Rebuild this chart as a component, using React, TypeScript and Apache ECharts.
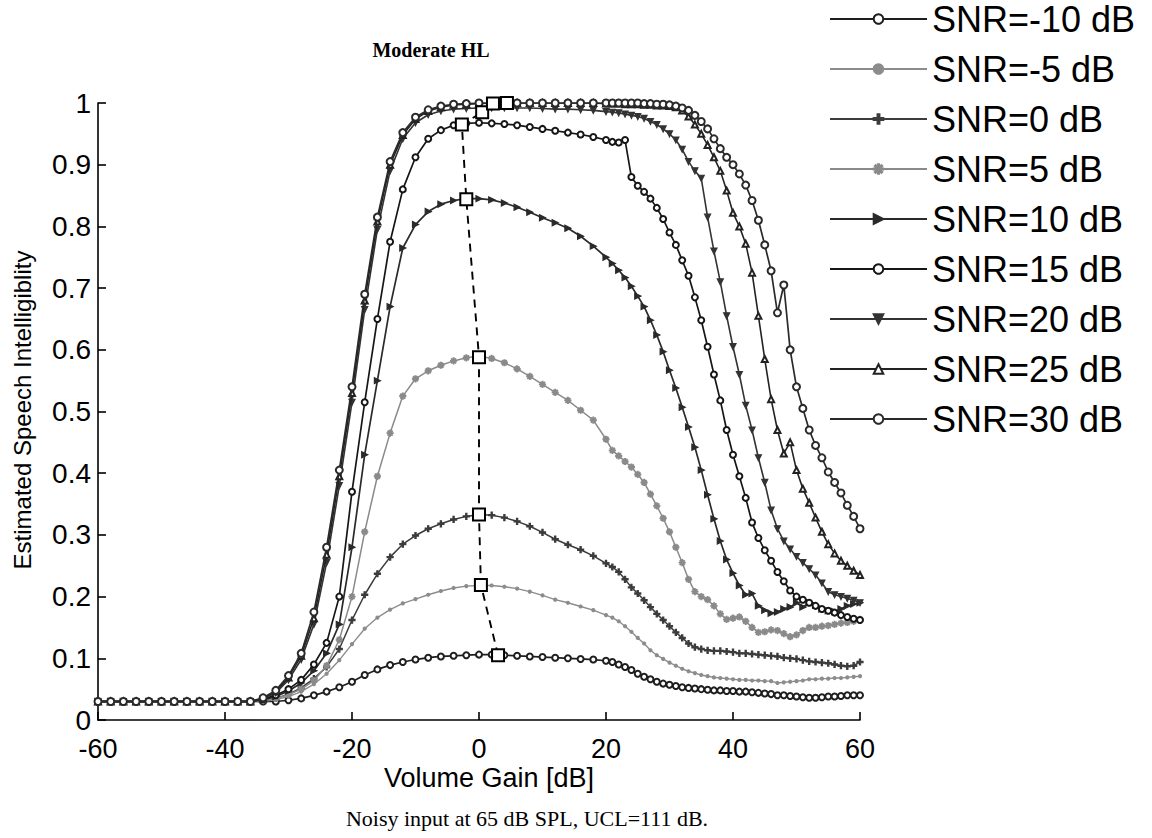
import React, { useEffect, useRef } from "react";
import * as echarts from "echarts";

// Volume gain grid [dB]
const GAIN = [
  -60, -58, -56, -54, -52, -50, -48, -46, -44, -42, -40, -38, -36, -34, -32, -30, -28, -26, -24, -22,
  -20, -18, -16, -14, -12, -10, -8, -6, -4, -2, 0, 2, 4, 6, 8, 10, 12, 14, 16, 18, 20,
  21, 22, 23, 24, 25, 26, 27, 28, 29, 30, 31, 32, 33, 34, 35, 36, 37, 38, 39, 40,
  41, 42, 43, 44, 45, 46, 47, 48, 49, 50, 51, 52, 53, 54, 55, 56, 57, 58, 59, 60,
];

const SNR_LABELS = [
  "SNR=-10 dB", "SNR=-5 dB", "SNR=0 dB", "SNR=5 dB", "SNR=10 dB",
  "SNR=15 dB", "SNR=20 dB", "SNR=25 dB", "SNR=30 dB",
];

const SI_SNR_M10 = [
  0.03, 0.03, 0.03, 0.03, 0.03, 0.03, 0.03, 0.03, 0.03, 0.03, 0.03, 0.03, 0.03,
  0.03, 0.03, 0.032, 0.035, 0.04, 0.046, 0.053, 0.062, 0.073, 0.082, 0.089, 0.094, 0.098, 0.101,
  0.103, 0.104, 0.105, 0.106, 0.106, 0.105, 0.104, 0.103, 0.102, 0.101, 0.1, 0.099, 0.098, 0.096,
  0.094, 0.09, 0.086, 0.081, 0.075, 0.07, 0.066, 0.062, 0.059, 0.057,
  0.055, 0.053, 0.052, 0.051, 0.05, 0.049, 0.048, 0.048, 0.047, 0.047,
  0.046, 0.046, 0.045, 0.044, 0.043, 0.042, 0.04, 0.04, 0.039, 0.038,
  0.037, 0.036, 0.036, 0.037, 0.038, 0.038, 0.039, 0.04, 0.04, 0.04,
];
const SI_SNR_M5 = [
  0.03, 0.03, 0.03, 0.03, 0.03, 0.03, 0.03, 0.03, 0.03, 0.03, 0.03, 0.03, 0.03,
  0.03, 0.033, 0.038, 0.046, 0.058, 0.075, 0.097, 0.123, 0.148, 0.166, 0.179, 0.189, 0.196, 0.203,
  0.209, 0.214, 0.217, 0.218, 0.218, 0.216, 0.213, 0.208, 0.202, 0.195, 0.19, 0.184, 0.178, 0.17,
  0.166, 0.16, 0.152, 0.143, 0.133, 0.124, 0.113, 0.105, 0.099, 0.093,
  0.088, 0.083, 0.079, 0.076, 0.073, 0.071, 0.069, 0.068, 0.067, 0.066,
  0.065, 0.065, 0.064, 0.064, 0.063, 0.063, 0.06, 0.061, 0.062, 0.063,
  0.064, 0.066, 0.066, 0.067, 0.067, 0.068, 0.068, 0.069, 0.07, 0.071,
];
const SI_SNR_0 = [
  0.03, 0.03, 0.03, 0.03, 0.03, 0.03, 0.03, 0.03, 0.03, 0.03, 0.03, 0.03, 0.03,
  0.031, 0.035, 0.042, 0.052, 0.067, 0.086, 0.115, 0.162, 0.203, 0.237, 0.264, 0.285, 0.299, 0.31,
  0.318, 0.325, 0.33, 0.333, 0.332, 0.328, 0.322, 0.314, 0.304, 0.293, 0.284, 0.276, 0.266, 0.254,
  0.248, 0.24, 0.228, 0.215, 0.205, 0.194, 0.183, 0.172, 0.162, 0.152,
  0.142, 0.133, 0.124, 0.118, 0.115, 0.113, 0.112, 0.112, 0.111, 0.11,
  0.108, 0.108, 0.107, 0.106, 0.105, 0.104, 0.103, 0.101, 0.1, 0.099,
  0.097, 0.095, 0.094, 0.093, 0.092, 0.09, 0.088, 0.087, 0.088, 0.094,
];
const SI_SNR_5 = [
  0.03, 0.03, 0.03, 0.03, 0.03, 0.03, 0.03, 0.03, 0.03, 0.03, 0.03, 0.03, 0.03,
  0.032, 0.035, 0.041, 0.05, 0.064, 0.088, 0.13, 0.2, 0.305, 0.395, 0.465, 0.525, 0.553, 0.566,
  0.575, 0.582, 0.587, 0.59, 0.586, 0.579, 0.569, 0.557, 0.544, 0.531, 0.518, 0.502, 0.486, 0.455,
  0.437, 0.428, 0.419, 0.41, 0.398, 0.385, 0.366, 0.347, 0.327, 0.305,
  0.28, 0.255, 0.228, 0.208, 0.2, 0.195, 0.185, 0.172, 0.163, 0.165,
  0.167, 0.16, 0.15, 0.142, 0.143, 0.146, 0.145, 0.14, 0.135, 0.138,
  0.145, 0.15, 0.15, 0.152, 0.153, 0.155, 0.157, 0.158, 0.16, 0.163,
];
const SI_SNR_10 = [
  0.03, 0.03, 0.03, 0.03, 0.03, 0.03, 0.03, 0.03, 0.03, 0.03, 0.03, 0.03, 0.03,
  0.033, 0.038, 0.047, 0.06, 0.08, 0.108, 0.155, 0.28, 0.43, 0.55, 0.67, 0.765, 0.803, 0.824,
  0.836, 0.842, 0.845, 0.845, 0.843, 0.838, 0.831, 0.823, 0.814, 0.806, 0.797, 0.784, 0.768, 0.75,
  0.74, 0.729, 0.717, 0.703, 0.687, 0.67, 0.648, 0.624, 0.597, 0.567,
  0.538, 0.507, 0.475, 0.442, 0.405, 0.365, 0.326, 0.29, 0.26, 0.238,
  0.218, 0.203, 0.205, 0.185, 0.178, 0.173, 0.175, 0.18, 0.183, 0.19,
  0.183, 0.19, 0.186, 0.18, 0.177, 0.176, 0.18, 0.185, 0.188, 0.19,
];
const SI_SNR_15 = [
  0.03, 0.03, 0.03, 0.03, 0.03, 0.03, 0.03, 0.03, 0.03, 0.03, 0.03, 0.03, 0.03,
  0.034, 0.04, 0.05, 0.065, 0.09, 0.125, 0.2, 0.37, 0.515, 0.65, 0.775, 0.86, 0.912, 0.942,
  0.956, 0.964, 0.967, 0.968, 0.967, 0.966, 0.964, 0.961, 0.958, 0.955, 0.952, 0.949, 0.945, 0.94,
  0.937, 0.936, 0.94, 0.88, 0.866, 0.856, 0.845, 0.83, 0.812, 0.79,
  0.77, 0.745, 0.72, 0.685, 0.648, 0.605, 0.56, 0.518, 0.47, 0.43,
  0.395, 0.36, 0.32, 0.295, 0.275, 0.258, 0.24, 0.225, 0.21, 0.2,
  0.195, 0.19, 0.185, 0.18, 0.177, 0.174, 0.17, 0.167, 0.164, 0.162,
];
const SI_SNR_20 = [
  0.03, 0.03, 0.03, 0.03, 0.03, 0.03, 0.03, 0.03, 0.03, 0.03, 0.03, 0.03, 0.03,
  0.034, 0.044, 0.065, 0.098, 0.155, 0.255, 0.38, 0.515, 0.665, 0.795, 0.89, 0.942, 0.968, 0.981,
  0.987, 0.99, 0.991, 0.992, 0.992, 0.992, 0.992, 0.992, 0.991, 0.99, 0.99, 0.989, 0.988, 0.986,
  0.985, 0.984, 0.982, 0.98, 0.978, 0.975, 0.97, 0.965, 0.958, 0.95,
  0.94, 0.925, 0.905, 0.89, 0.878, 0.815, 0.76, 0.71, 0.655, 0.605,
  0.56, 0.51, 0.47, 0.425, 0.385, 0.34, 0.31, 0.29, 0.277, 0.265,
  0.255, 0.245, 0.235, 0.222, 0.208, 0.203, 0.2, 0.197, 0.194, 0.19,
];
const SI_SNR_25 = [
  0.03, 0.03, 0.03, 0.03, 0.03, 0.03, 0.03, 0.03, 0.03, 0.03, 0.03, 0.03, 0.03,
  0.035, 0.046, 0.069, 0.104, 0.165, 0.268, 0.395, 0.53, 0.68, 0.808, 0.9, 0.948, 0.974, 0.987,
  0.993, 0.997, 0.998, 0.999, 1.0, 1.0, 1.0, 1.0, 1.0, 1.0, 1.0, 1.0, 1.0, 0.999,
  0.999, 0.999, 0.998, 0.998, 0.998, 0.997, 0.997, 0.996, 0.996, 0.995,
  0.993, 0.988, 0.978, 0.965, 0.95, 0.932, 0.912, 0.89, 0.858, 0.822,
  0.8, 0.772, 0.725, 0.655, 0.585, 0.52, 0.47, 0.432, 0.45, 0.405,
  0.375, 0.352, 0.328, 0.305, 0.285, 0.27, 0.258, 0.25, 0.242, 0.235,
];
const SI_SNR_30 = [
  0.03, 0.03, 0.03, 0.03, 0.03, 0.03, 0.03, 0.03, 0.03, 0.03, 0.03, 0.03, 0.03,
  0.036, 0.048, 0.072, 0.108, 0.175, 0.28, 0.405, 0.54, 0.69, 0.815, 0.905, 0.952, 0.977, 0.989,
  0.995, 0.998, 0.999, 1.0, 1.0, 1.0, 1.0, 1.0, 1.0, 1.0, 1.0, 1.0, 1.0, 1.0,
  1.0, 1.0, 1.0, 1.0, 1.0, 0.999, 0.999, 0.998, 0.998, 0.997,
  0.995, 0.992, 0.988, 0.98, 0.97, 0.958, 0.942, 0.926, 0.912, 0.9,
  0.885, 0.867, 0.842, 0.81, 0.77, 0.728, 0.66, 0.705, 0.6, 0.54,
  0.505, 0.47, 0.445, 0.425, 0.402, 0.385, 0.368, 0.348, 0.33, 0.31,
];

// Optimal gain points (dashed line with squares), from SNR=-10 up to SNR=30
const OPT_GAIN = [3, 0.3, 0, 0, -2, -2.7, 0.5, 2.2, 4.4];
const OPT_SI = [0.105, 0.219, 0.333, 0.588, 0.844, 0.965, 0.985, 0.999, 1.0];

const SERIES_VALUES = [
  SI_SNR_M10, SI_SNR_M5, SI_SNR_0, SI_SNR_5, SI_SNR_10,
  SI_SNR_15, SI_SNR_20, SI_SNR_25, SI_SNR_30,
];

const PLUS = "path://M4,0H6V4H10V6H6V10H4V6H0V4H4Z";
const ASTERISK =
  "path://M4.4,0H5.6V10H4.4Z M0,4.4H10V5.6H0Z M1.1,2L2,1.1L8.9,8L8,8.9Z M8,1.1L8.9,2L2,8.9L1.1,8Z";

const STYLES = [
  { color: "#1e1e1e", symbol: "emptyCircle", size: 6, rotate: 0, width: 1.7 },
  { color: "#8c8c8c", symbol: "circle", size: 3, rotate: 0, width: 1.4 },
  { color: "#3c3c3c", symbol: PLUS, size: 6, rotate: 0, width: 1.5 },
  { color: "#8a8a8a", symbol: ASTERISK, size: 6, rotate: 0, width: 1.5 },
  { color: "#2a2a2a", symbol: "triangle", size: 6, rotate: -90, width: 1.7 },
  { color: "#161616", symbol: "emptyCircle", size: 6, rotate: 0, width: 1.7 },
  { color: "#333333", symbol: "triangle", size: 6, rotate: 180, width: 1.6 },
  { color: "#222222", symbol: "emptyTriangle", size: 6, rotate: 0, width: 1.6 },
  { color: "#2a2a2a", symbol: "emptyCircle", size: 7, rotate: 0, width: 1.7 },
];

export default function App() {
  const ref = useRef<HTMLDivElement>(null);

  useEffect(() => {
    if (!ref.current) return;
    const chart = echarts.init(ref.current, undefined, { renderer: "svg" });

    const series: any[] = SNR_LABELS.map((name, k) => {
      const st = STYLES[k];
      return {
        type: "line",
        name,
        data: GAIN.map((g, i) => [g, SERIES_VALUES[k][i]]),
        symbol: st.symbol,
        symbolSize: st.size,
        symbolRotate: st.rotate,
        showSymbol: true,
        showAllSymbol: true,
        lineStyle: { color: st.color, width: st.width },
        itemStyle: { color: st.color, borderColor: st.color, borderWidth: 1.2 },
        emphasis: { disabled: true },
        z: 2 + k,
      };
    });

    series.push({
      type: "line",
      name: "Optimum",
      data: OPT_GAIN.map((g, i) => [g, OPT_SI[i]]),
      symbol: "emptyRect",
      symbolSize: 12,
      showSymbol: true,
      lineStyle: { color: "#000", width: 1.9, type: [8, 6] },
      itemStyle: { color: "#000", borderColor: "#000", borderWidth: 2 },
      emphasis: { disabled: true },
      z: 20,
    });

    const axisCommon = {
      axisLine: { show: true, onZero: false, lineStyle: { color: "#000", width: 1.6 } },
      axisTick: { show: true, inside: true, length: 8, lineStyle: { color: "#000", width: 1.6 } },
      splitLine: { show: false },
    };

    chart.setOption({
      animation: false,
      backgroundColor: "#fff",
      grid: { left: 98, top: 103, width: 762, height: 617 },
      xAxis: {
        type: "value",
        min: -60,
        max: 60,
        interval: 20,
        ...axisCommon,
        axisLabel: {
          color: "#000",
          fontSize: 27,
          fontFamily: "'Liberation Sans Narrow', 'Liberation Sans', Arial, sans-serif",
          margin: 15,
        },
      },
      yAxis: {
        type: "value",
        min: 0,
        max: 1,
        interval: 0.1,
        ...axisCommon,
        axisLabel: {
          color: "#000",
          fontSize: 28,
          fontFamily: "'Liberation Sans', Arial, sans-serif",
          margin: 7,
        },
      },
      legend: {
        data: SNR_LABELS,
        orient: "vertical",
        left: 824,
        top: -4,
        itemWidth: 97,
        itemHeight: 12,
        itemGap: 14,
        selectedMode: false,
        textStyle: {
          color: "#000",
          fontSize: 36,
          fontFamily: "'Liberation Sans', Arial, sans-serif",
        },
      },
      graphic: [
        {
          type: "text",
          x: 431,
          y: 50,
          style: {
            text: "Moderate HL",
            fontSize: 20,
            fontWeight: "bold",
            fontFamily: "'Liberation Serif', 'Times New Roman', serif",
            fill: "#000",
            align: "center",
            verticalAlign: "middle",
          },
        },
        {
          type: "text",
          x: 22,
          y: 410,
          rotation: Math.PI / 2,
          style: {
            text: "Estimated Speech Intelligiblity",
            fontSize: 24,
            fontFamily: "'Liberation Sans', Arial, sans-serif",
            fill: "#000",
            align: "center",
            verticalAlign: "middle",
          },
        },
        {
          type: "text",
          x: 489,
          y: 778,
          style: {
            text: "Volume Gain [dB]",
            fontSize: 27,
            fontFamily: "'Liberation Sans Narrow', 'Liberation Sans', Arial, sans-serif",
            fill: "#000",
            align: "center",
            verticalAlign: "middle",
          },
        },
        {
          type: "text",
          x: 527,
          y: 818,
          style: {
            text: "Noisy input at 65 dB SPL, UCL=111 dB.",
            fontSize: 22,
            fontFamily: "'Liberation Serif', 'Times New Roman', serif",
            fill: "#000",
            align: "center",
            verticalAlign: "middle",
          },
        },
      ],
      series,
    });

    return () => chart.dispose();
  }, []);

  return (
    <div
      ref={ref}
      style={{ position: "fixed", left: 0, top: 0, width: 1152, height: 838, background: "#fff" }}
    />
  );
}
